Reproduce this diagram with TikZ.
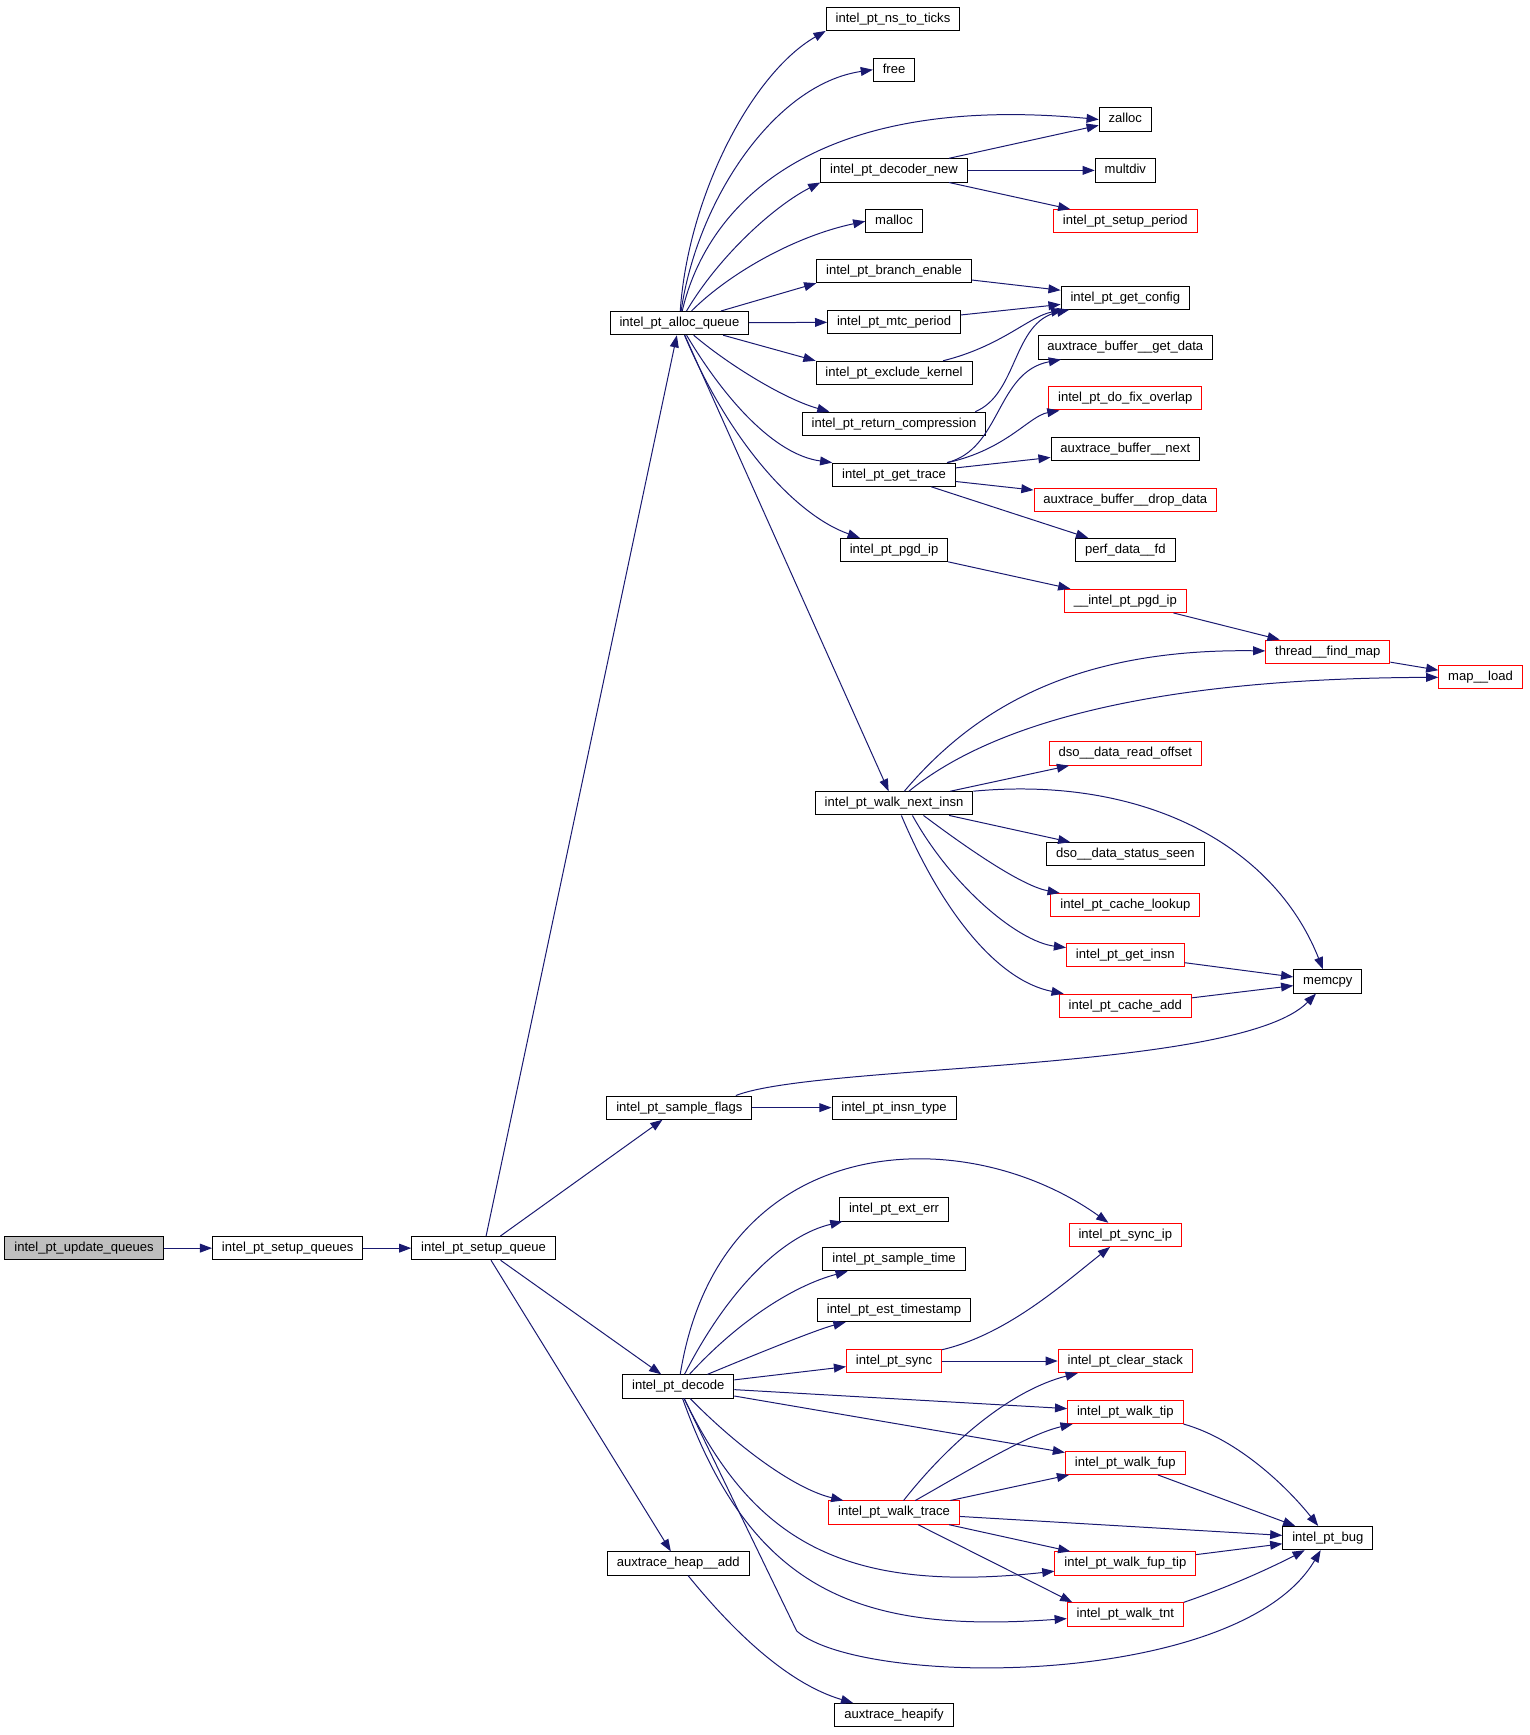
\documentclass[tikz,border=0pt]{standalone}
\usepackage{fontspec}
\setmainfont{Liberation Sans}
\usetikzlibrary{arrows.meta}
\definecolor{edgec}{HTML}{191970}
\definecolor{nodered}{HTML}{FF0000}
\definecolor{grayfill}{HTML}{BFBFBF}
\tikzset{
  fn/.style={draw=black, line width=0.9pt, fill=white, inner xsep=8.5pt, inner ysep=0pt,
    minimum height=21pt, text height=8.7pt, text depth=2.6pt,
    font=\fontsize{11.8}{13}\selectfont},
  fnred/.style={fn, draw=nodered},
  fngray/.style={fn, fill=grayfill},
  call/.style={draw=edgec, line width=0.9pt, -{Triangle[length=11pt,width=8pt]}},
}
\begin{document}
\begin{tikzpicture}[x=1pt,y=-1pt]
\useasboundingbox (0,0) rectangle (1382,1568);
% nodes
\node[fngray] (upd) at (76,1128) {intel\_pt\_update\_queues};
\node[fn] (sqs) at (260,1128) {intel\_pt\_setup\_queues};
\node[fn] (sq) at (437,1128) {intel\_pt\_setup\_queue};
\node[fn] (aq) at (614,292) {intel\_pt\_alloc\_queue};
\node[fn] (sf) at (614,1001) {intel\_pt\_sample\_flags};
\node[fn] (dec) at (613,1253) {intel\_pt\_decode};
\node[fn] (aha) at (613,1413) {auxtrace\_heap\_\_add};
\node[fn] (ns) at (807,17) {intel\_pt\_ns\_to\_ticks};
\node[fn] (free) at (808,63) {free};
\node[fn] (zalloc) at (1017,108) {zalloc};
\node[fn] (dnew) at (808,154) {intel\_pt\_decoder\_new};
\node[fn] (multdiv) at (1017,154) {multdiv};
\node[fnred] (setper) at (1017,200) {intel\_pt\_setup\_period};
\node[fn] (malloc) at (808,200) {malloc};
\node[fn] (bren) at (808,245) {intel\_pt\_branch\_enable};
\node[fn] (getcfg) at (1017,269) {intel\_pt\_get\_config};
\node[fn] (mtc) at (808,291) {intel\_pt\_mtc\_period};
\node[fn] (getdata) at (1017,314) {auxtrace\_buffer\_\_get\_data};
\node[fn] (exk) at (808,337) {intel\_pt\_exclude\_kernel};
\node[fnred] (fixov) at (1017,360) {intel\_pt\_do\_fix\_overlap};
\node[fn] (retc) at (808,383) {intel\_pt\_return\_compression};
\node[fn] (bnext) at (1017,406) {auxtrace\_buffer\_\_next};
\node[fn] (gtrace) at (808,429) {intel\_pt\_get\_trace};
\node[fnred] (drop) at (1017,452) {auxtrace\_buffer\_\_drop\_data};
\node[fn] (pdfd) at (1017,497) {perf\_data\_\_fd};
\node[fn] (pgd) at (808,497) {intel\_pt\_pgd\_ip};
\node[fnred] (upgd) at (1017,543) {\_\_intel\_pt\_pgd\_ip};
\node[fnred] (tfm) at (1200,589) {thread\_\_find\_map};
\node[fnred] (mload) at (1338,612) {map\_\_load};
\node[fnred] (dro) at (1017,681) {dso\_\_data\_read\_offset};
\node[fn] (wni) at (808,726) {intel\_pt\_walk\_next\_insn};
\node[fn] (dss) at (1017,772) {dso\_\_data\_status\_seen};
\node[fnred] (clook) at (1017,818) {intel\_pt\_cache\_lookup};
\node[fnred] (gins) at (1017,863) {intel\_pt\_get\_insn};
\node[fn] (memcpy) at (1200,887) {memcpy};
\node[fnred] (cadd) at (1017,909) {intel\_pt\_cache\_add};
\node[fn] (itype) at (808,1001) {intel\_pt\_insn\_type};
\node[fn] (exterr) at (808,1093) {intel\_pt\_ext\_err};
\node[fnred] (syncip) at (1017,1116) {intel\_pt\_sync\_ip};
\node[fn] (stime) at (808,1138) {intel\_pt\_sample\_time};
\node[fn] (estts) at (808,1184) {intel\_pt\_est\_timestamp};
\node[fnred] (sync) at (808,1230) {intel\_pt\_sync};
\node[fnred] (clr) at (1017,1230) {intel\_pt\_clear\_stack};
\node[fnred] (wtip) at (1017,1276) {intel\_pt\_walk\_tip};
\node[fnred] (wfup) at (1017,1322) {intel\_pt\_walk\_fup};
\node[fnred] (wtrace) at (808,1367) {intel\_pt\_walk\_trace};
\node[fn] (bug) at (1200,1390) {intel\_pt\_bug};
\node[fnred] (wfuptip) at (1017,1413) {intel\_pt\_walk\_fup\_tip};
\node[fnred] (wtnt) at (1017,1459) {intel\_pt\_walk\_tnt};
\node[fn] (heapify) at (808,1550) {auxtrace\_heapify};
\coordinate (bugbend) at (720,1474);
% edges
\draw[call] (upd) -- (sqs);
\draw[call] (sqs) -- (sq);
\draw[call] (sq) -- (aq);
\draw[call] (sq) -- (sf);
\draw[call] (sq) -- (dec);
\draw[call] (sq) -- (aha);
% alloc_queue
\draw[call] (aq) .. controls (622,176) and (680,66) .. (ns.south west);
\draw[call] (aq) .. controls (630,181) and (700,76) .. (free.west);
\draw[call] (aq) .. controls (640,181) and (740,84) .. (zalloc.west);
\draw[call] (aq) .. controls (650,231) and (700,186) .. (dnew.south west);
\draw[call] (aq) .. controls (660,246) and (720,213) .. (malloc.west);
\draw[call] (aq) -- (bren.south west);
\draw[call] (aq) -- (mtc);
\draw[call] (aq) -- (exk.north west);
\draw[call] (aq) .. controls (660,331) and (710,361) .. ([xshift=25pt]retc.north west);
\draw[call] (aq) .. controls (655,361) and (700,411) .. (gtrace.north west);
\draw[call] (aq) .. controls (660,401) and (720,466) .. ([xshift=18pt]pgd.north west);
\draw[call] (aq) -- (wni);
% decoder_new
\draw[call] (dnew) -- (zalloc);
\draw[call] (dnew) -- (multdiv);
\draw[call] (dnew) -- (setper);
% get_config
\draw[call] (bren) -- (getcfg);
\draw[call] (mtc) -- (getcfg);
\draw[call] (exk) .. controls (905,313) and (930,286) .. (getcfg);
\draw[call] ([xshift=-10pt]retc.north east) .. controls (920,356) and (915,291) .. (getcfg);
% get_trace
\draw[call] ([xshift=-8pt]gtrace.north east) .. controls (905,406) and (900,336) .. (getdata);
\draw[call] (gtrace) .. controls (910,406) and (930,376) .. (fixov);
\draw[call] (gtrace) -- (bnext);
\draw[call] (gtrace) -- (drop);
\draw[call] (gtrace) -- (pdfd);
% pgd
\draw[call] (pgd) -- (upgd);
\draw[call] (upgd) -- (tfm);
\draw[call] (tfm) -- (mload);
% walk_next_insn
\draw[call] (wni) .. controls (880,641) and (970,586) .. (tfm);
\draw[call] (wni) .. controls (900,651) and (1050,613) .. (mload);
\draw[call] (wni) -- (dro);
\draw[call] (wni.north east) .. controls (1030,701) and (1150,761) .. (memcpy);
\draw[call] (wni) -- (dss);
\draw[call] ([xshift=-45pt]wni.south east) .. controls (880,771) and (925,801) .. (clook);
\draw[call] ([xshift=-55pt]wni.south east) .. controls (860,801) and (920,851) .. (gins);
\draw[call] ([xshift=-65pt]wni.south east) .. controls (850,821) and (900,886) .. (cadd);
\draw[call] (gins) -- (memcpy);
\draw[call] (cadd) -- (memcpy);
% sample_flags
\draw[call] ([xshift=-15pt]sf.north east) .. controls (740,961) and (1120,969) .. (memcpy);
\draw[call] (sf) -- (itype);
% decode
\draw[call] (dec) .. controls (650,1021) and (870,1011) .. (syncip);
\draw[call] (dec) .. controls (660,1161) and (710,1116) .. (exterr);
\draw[call] (dec) .. controls (670,1191) and (720,1161) .. (stime);
\draw[call] (dec) .. controls (690,1221) and (740,1201) .. (estts);
\draw[call] (dec) -- (sync);
\draw[call] (dec) -- (wtip);
\draw[call] (dec) -- (wfup);
\draw[call] (dec) .. controls (670,1311) and (720,1346) .. (wtrace);
\draw[call] (dec) .. controls (680,1391) and (760,1441) .. (wfuptip);
\draw[call] (dec) .. controls (680,1441) and (780,1476) .. (wtnt);
\draw[call] (dec) -- (bugbend) .. controls (780,1526) and (1120,1526) .. (bug);
% sync
\draw[call] (sync) .. controls (910,1206) and (960,1161) .. (syncip);
\draw[call] (sync) -- (clr);
% walk_trace
\draw[call] (wtrace) .. controls (860,1301) and (915,1256) .. (clr);
\draw[call] (wtrace) .. controls (880,1326) and (930,1296) .. (wtip);
\draw[call] (wtrace) -- (wfup);
\draw[call] (wtrace) -- (bug);
\draw[call] (wtrace) -- (wfuptip);
\draw[call] (wtrace) -- ([xshift=5pt]wtnt.north west);
% to bug
\draw[call] (wtip.south east) .. controls (1120,1301) and (1165,1346) .. (bug);
\draw[call] (wfup) -- (bug);
\draw[call] (wfuptip) -- (bug);
\draw[call] (wtnt.north east) .. controls (1120,1431) and (1160,1411) .. (bug);
% heap
\draw[call] (aha) .. controls (660,1471) and (710,1521) .. (heapify);
\end{tikzpicture}
\end{document}
